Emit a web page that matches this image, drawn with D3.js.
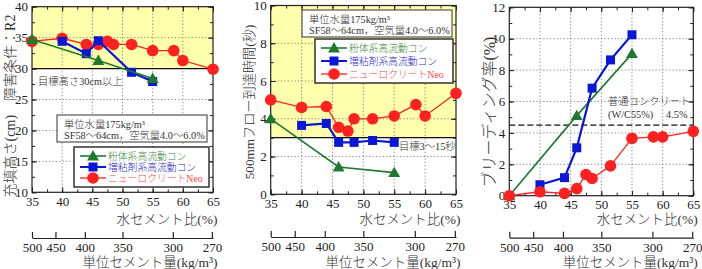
<!DOCTYPE html>
<html><head><meta charset="utf-8">
<script src="https://cdn.jsdelivr.net/npm/d3@7"></script>
<style>
body{margin:0;background:#fff;}
text{font-family:"Liberation Serif","Noto Sans CJK JP",serif;fill:#222;}
.jp{font-weight:300;fill:#333;}
</style></head><body>
<svg id="chart" width="702" height="269"></svg>
<script>
// W/C (%) of each mix
const wcNeo  = [35, 40, 44, 46, 47.5, 48.5, 51.5, 55, 58.5, 60, 65];
const wcZohA = [40, 44, 46, 51.5, 55];
const wcZoh  = [40, 44, 46, 48.5, 51.5, 55];
const wcFun  = [35, 46, 55];

// 充填高さ (cm)
const fillFun = [34.7, 31.3, 28.4];
const fillZoh = [34.4, 32.4, 34.5, 29.4, 27.9];
const fillNeo = [34.4, 34.9, 33.9, 33.9, 34.4, 33.9, 33.9, 32.9, 32.9, 31.3, 29.9];

// 500mmフロー到達時間 (秒)
const flowFun = [4.0, 1.45, 1.15];
const flowZoh = [3.65, 3.75, 2.75, 2.75, 2.85, 2.75];
const flowNeo = [5.0, 4.6, 4.65, 3.55, 3.35, 4.0, 4.0, 4.15, 4.75, 4.15, 5.35];

// ブリーディング率 (%)
const bleedFun = [0, 5.1, 9.05];
const bleedZoh = [0.7, 1.15, 3.05, 6.85, 8.65, 10.25];
const bleedNeo = [0, 0.25, 0.15, 0.45, 1.35, 1.1, 1.9, 3.65, 3.75, 3.75, 4.1];

const xTicks = [35, 40, 45, 50, 55, 60, 65];
const cementTicks = [500, 450, 400, 350, 300, 270];
const unitWater = 175;
const seriesNames = ["粉体系高流動コン", "増粘剤系高流動コン", "ニューロクリートNeo"];

const col = {
  fun: "#1d7a2e", zoh: "#0a18d6", neo: "#ff2020",
  funT: "#3a8a3a", zohT: "#2a2ac4", neoT: "#ff4848"
};

const svg = d3.select("#chart");

function marker(g, type, cx, cy, color) {
  if (type === "tri") {
    g.append("path").attr("d", d3.symbol(d3.symbolTriangle, 62)())
      .attr("transform", `translate(${cx},${cy + 1})`).attr("fill", color);
  } else if (type === "sq") {
    g.append("rect").attr("x", cx - 4.5).attr("y", cy - 4.5).attr("width", 9).attr("height", 9).attr("fill", color);
  } else {
    g.append("circle").attr("cx", cx).attr("cy", cy).attr("r", 5.8).attr("fill", color);
  }
}

function panel(p) {
  const x = d3.scaleLinear().domain([35, 65]).range([p.l, p.r]);
  const y = d3.scaleLinear().domain(p.yDom).range([p.b, p.t]);
  const g = svg.append("g");

  if (p.band) {
    g.append("rect").attr("x", p.l).attr("y", y(p.band[1]))
      .attr("width", p.r - p.l).attr("height", y(p.band[0]) - y(p.band[1]))
      .attr("fill", "#ffffac");
  }

  // dotted grid
  g.selectAll(null).data(xTicks.slice(1, -1)).join("line")
    .attr("x1", d => x(d)).attr("x2", d => x(d)).attr("y1", p.t).attr("y2", p.b)
    .attr("stroke", "#666").attr("stroke-width", 0.8).attr("stroke-dasharray", "1.2,2.2");
  g.selectAll(null).data(p.yTicks.slice(1, -1).filter(d => d !== p.target)).join("line")
    .attr("x1", p.l).attr("x2", p.r).attr("y1", d => y(d)).attr("y2", d => y(d))
    .attr("stroke", "#666").attr("stroke-width", 0.8).attr("stroke-dasharray", "1.2,2.2");

  if (p.target != null) {
    g.append("line").attr("x1", p.l).attr("x2", p.r).attr("y1", y(p.target)).attr("y2", y(p.target))
      .attr("stroke", "#111").attr("stroke-width", 1.3);
  }
  if (p.dashed != null) {
    g.append("line").attr("x1", p.l).attr("x2", p.r).attr("y1", y(p.dashed)).attr("y2", y(p.dashed))
      .attr("stroke", "#111").attr("stroke-width", 1.3).attr("stroke-dasharray", "6,3");
  }

  // axes with inward ticks
  const xMinor = d3.range(35, 65.01, 2.5);
  const yMinor = d3.range(p.yDom[0], p.yDom[1] + 0.001, p.yMinor);
  const ax = (axis, tx, ty) => {
    const a = g.append("g").attr("transform", `translate(${tx},${ty})`).call(axis);
    a.select(".domain").remove();
    a.selectAll("line").attr("stroke", "#222");
    a.selectAll("text").style("font-size", "13px").attr("fill", "#222");
    return a;
  };
  ax(d3.axisBottom(x).tickValues(xMinor).tickSize(-3).tickFormat(""), 0, p.b);
  ax(d3.axisTop(x).tickValues(xMinor).tickSize(-3).tickFormat(""), 0, p.t);
  ax(d3.axisBottom(x).tickValues(xTicks).tickSize(-5).tickPadding(4.5), 0, p.b);
  ax(d3.axisTop(x).tickValues(xTicks).tickSize(-5).tickFormat(""), 0, p.t);
  ax(d3.axisLeft(y).tickValues(yMinor).tickSize(-3).tickFormat(""), p.l, 0);
  ax(d3.axisRight(y).tickValues(yMinor).tickSize(-3).tickFormat(""), p.r, 0);
  ax(d3.axisLeft(y).tickValues(p.yTicks).tickSize(-5).tickPadding(4), p.l, 0);
  ax(d3.axisRight(y).tickValues(p.yTicks).tickSize(-5).tickFormat(""), p.r, 0);

  g.append("rect").attr("x", p.l).attr("y", p.t).attr("width", p.r - p.l).attr("height", p.b - p.t)
    .attr("fill", "none").attr("stroke", "#222").attr("stroke-width", 1.2);

  // series
  const line = d3.line().x(d => x(d[0])).y(d => y(d[1]));
  p.series.forEach(s => {
    const pts = s.wc.map((w, i) => [w, s.v[i]]);
    g.append("path").datum(pts).attr("d", line).attr("fill", "none")
      .attr("stroke", s.color).attr("stroke-width", s.w);
    pts.forEach(d => marker(g, s.mk, x(d[0]), y(d[1]), s.color));
  });

  // titles
  g.append("text").attr("class", "jp").attr("x", p.r - 46).attr("y", 219.5).attr("text-anchor", "middle")
    .attr("dominant-baseline", "central").style("font-size", "13.5px").text("水セメント比(%)");
  g.append("text").attr("class", "jp").attr("transform", `translate(${p.yx},${p.yy}) rotate(-90)`)
    .attr("text-anchor", "middle").attr("dominant-baseline", "central")
    .style("font-size", p.yFs + "px").text(p.yTitle);

  // secondary axis: unit cement
  const sec = g.append("g").attr("transform", `translate(0,${p.sec})`)
    .call(d3.axisBottom(x).tickValues(cementTicks.map(c => unitWater / c * 100))
      .tickSize(-6).tickSizeOuter(0).tickPadding(5)
      .tickFormat((d, i) => cementTicks[i]));
  sec.select(".domain").attr("stroke", "#222").attr("stroke-width", 1.2);
  sec.selectAll("line").attr("stroke", "#222").attr("stroke-width", 1.2);
  sec.selectAll("text").style("font-size", "13px").attr("fill", "#222");
  g.append("text").attr("class", "jp").attr("x", p.r - 63).attr("y", 262).attr("text-anchor", "middle")
    .attr("dominant-baseline", "central").style("font-size", "13.5px").text("単位セメント量(kg/m³)");

  return { g, x, y };
}

function note(g, tx, ty, str) {
  g.append("text").attr("class", "jp").attr("x", tx).attr("y", ty).attr("dominant-baseline", "central")
    .style("font-size", "10.3px").text(str);
}

function infoBox(g, bx, by, bw, bh) {
  g.append("rect").attr("x", bx).attr("y", by).attr("width", bw).attr("height", bh)
    .attr("fill", "#fff").attr("stroke", "#555").attr("stroke-width", 1.2);
  note(g, bx + 7, by + 9, "単位水量175kg/m³");
  note(g, bx + 7, by + 20, "SF58～64cm，空気量4.0～6.0%");
}

function legend(g, lx, ly, lw, lh) {
  g.append("rect").attr("x", lx).attr("y", ly).attr("width", lw).attr("height", lh)
    .attr("fill", "#fff").attr("stroke", "#333").attr("stroke-width", 1.5);
  const items = [
    { mk: "tri", c: col.fun, t: col.funT, w: 1.6 },
    { mk: "sq", c: col.zoh, t: col.zohT, w: 2 },
    { mk: "circ", c: col.neo, t: col.neoT, w: 1.3 }
  ];
  const step = (lh - 18) / 2;
  items.forEach((it, i) => {
    const yy = ly + 9 + i * step;
    g.append("line").attr("x1", lx + 6).attr("x2", lx + 32).attr("y1", yy).attr("y2", yy)
      .attr("stroke", it.c).attr("stroke-width", it.w);
    marker(g, it.mk, lx + 19, yy, it.c);
    g.append("text").attr("x", lx + 34).attr("y", yy).attr("dominant-baseline", "central")
      .style("font-size", "9.8px").style("font-weight", 300).style("fill", it.t).text(seriesNames[i]);
  });
}

const S = (wc, v, mk, color, w) => ({ wc, v, mk, color, w });

// panel 1: filling height
const p1 = panel({
  l: 32, r: 213, t: 6.7, b: 192.3, yDom: [10, 40], yTicks: [10, 15, 20, 25, 30, 35, 40], yMinor: 2.5,
  band: [30, 40], target: 30, sec: 238,
  yTitle: "充填高さ(cm)　障害条件：R2", yx: 10, yy: 106, yFs: 14,
  series: [
    S(wcNeo, fillNeo, "circ", col.neo, 1.3),
    S(wcZohA, fillZoh, "sq", col.zoh, 2.2),
    S(wcFun, fillFun, "tri", col.fun, 1.6)
  ]
});
note(p1.g, 38, 81, "目標高さ30cm以上");
infoBox(p1.g, 57, 115, 150, 27);
legend(p1.g, 74, 147, 135, 40);

// panel 2: 500mm flow time
const p2 = panel({
  l: 270.7, r: 456, t: 5.5, b: 194.3, yDom: [0, 10], yTicks: [0, 2, 4, 6, 8, 10], yMinor: 1,
  band: [3, 10], target: 3, sec: 237,
  yTitle: "500mmフロー到達時間(秒)", yx: 249, yy: 102, yFs: 13.2,
  series: [
    S(wcNeo, flowNeo, "circ", col.neo, 1.3),
    S(wcZoh, flowZoh, "sq", col.zoh, 2.2),
    S(wcFun, flowFun, "tri", col.fun, 1.6)
  ]
});
note(p2.g, 399, 146, "目標3～15秒");
infoBox(p2.g, 302, 10, 150, 27);
legend(p2.g, 315, 39, 138, 44);

// panel 3: bleeding
const p3 = panel({
  l: 509.3, r: 693.3, t: 7.3, b: 195.7, yDom: [0, 12], yTicks: [0, 2, 4, 6, 8, 10, 12], yMinor: 1,
  dashed: 4.5, sec: 237.7,
  yTitle: "ブリーディング率(%)", yx: 489, yy: 112, yFs: 16,
  series: [
    S(wcFun, bleedFun, "tri", col.fun, 1.6),
    S(wcZoh, bleedZoh, "sq", col.zoh, 2.2),
    S(wcNeo, bleedNeo, "circ", col.neo, 1.3)
  ]
});
note(p3.g, 608, 101, "普通コンクリート");
note(p3.g, 608, 114, "(W/C55%)　 4.5%");
</script>
</body></html>
